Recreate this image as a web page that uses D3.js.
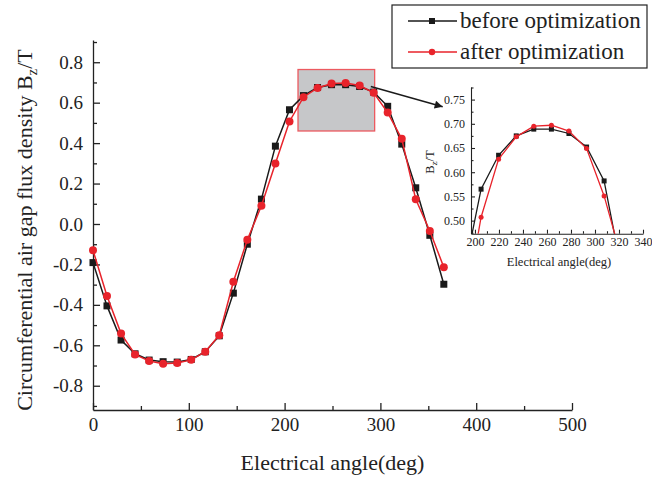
<!DOCTYPE html>
<html>
<head>
<meta charset="utf-8">
<script src="https://cdn.jsdelivr.net/npm/d3@7"></script>
<style>
  body { margin: 0; background: #fff; }
  svg text { font-family: "Liberation Serif", "DejaVu Serif", serif; fill: #222; }
  .axis path, .axis line { stroke: #222; }
</style>
</head>
<body>
<div id="chart"></div>
<script>
// electrical angle of each sample (deg)
var angles = [0, 14.6, 29.3, 43.9, 58.6, 73.2, 87.9, 102.5, 117.2, 131.8, 146.5, 161.1, 175.8,
              190.4, 205.1, 219.7, 234.4, 249, 263.7, 278.3, 293, 307.6, 322.3, 336.9, 351.6, 366.2];
var beforeOpt = [-0.191, -0.405, -0.574, -0.642, -0.673, -0.681, -0.683, -0.670, -0.632, -0.553, -0.342, -0.100, 0.123,
                 0.385, 0.565, 0.635, 0.675, 0.689, 0.689, 0.680, 0.652, 0.582, 0.395, 0.179, -0.056, -0.298];
var afterOpt = [-0.130, -0.356, -0.542, -0.645, -0.678, -0.691, -0.688, -0.672, -0.632, -0.550, -0.286, -0.078, 0.090,
                0.299, 0.507, 0.627, 0.673, 0.695, 0.697, 0.685, 0.649, 0.551, 0.421, 0.122, -0.035, -0.214];
var seriesNames = ["before optimization", "after optimization"];

var xTicks = [0, 100, 200, 300, 400, 500];
var xMinor = [50, 150, 250, 350, 450];
var yTicks = [-0.8, -0.6, -0.4, -0.2, 0.0, 0.2, 0.4, 0.6, 0.8];
var yMinor = [-0.9, -0.7, -0.5, -0.3, -0.1, 0.1, 0.3, 0.5, 0.7, 0.9];

var insetXTicks = [200, 220, 240, 260, 280, 300, 320, 340];
var insetXMinor = [210, 230, 250, 270, 290, 310, 330];
var insetYTicks = [0.50, 0.55, 0.60, 0.65, 0.70, 0.75];
var insetYMinor = [0.475, 0.525, 0.575, 0.625, 0.675, 0.725, 0.775];

// zoomed region and arrow (data coords of main chart)
var zoomBox = { x0: 214, x1: 294, y0: 0.46, y1: 0.764 };
var arrowFrom = [290, 0.68], arrowTo = [365, 0.58];

var red = "#e8232b", black = "#1a1a1a";
var serif = "Liberation Serif, DejaVu Serif, serif";

var svg = d3.select("#chart").append("svg").attr("width", 652).attr("height", 477);

var x = d3.scaleLinear().domain([0, 500]).range([93, 572]);
var y = d3.scaleLinear().domain([-0.92, 0.91]).range([410, 40]);

function Series(vals) {
    return angles.map(function(a, i) { return [a, vals[i]]; });
}

function DrawAxes(g, xs, ys, opt) {
    var bottom = ys.range()[0], left = xs.range()[0];
    g.append("g").attr("class", "axis").attr("transform", "translate(0," + bottom + ")")
        .call(d3.axisBottom(xs).tickValues(opt.xTicks).tickSize(-opt.major).tickSizeOuter(0).tickPadding(opt.pad)
            .tickFormat(function(d) { return d; }));
    g.append("g").attr("class", "axis").attr("transform", "translate(0," + bottom + ")")
        .call(d3.axisBottom(xs).tickValues(opt.xMinor).tickSize(-opt.minor).tickFormat(""))
        .select(".domain").remove();
    g.append("g").attr("class", "axis").attr("transform", "translate(" + left + ",0)")
        .call(d3.axisLeft(ys).tickValues(opt.yTicks).tickSize(-opt.major).tickSizeOuter(0).tickPadding(opt.pad + 2)
            .tickFormat(function(d) { return d.toFixed(opt.dec); }));
    g.append("g").attr("class", "axis").attr("transform", "translate(" + left + ",0)")
        .call(d3.axisLeft(ys).tickValues(opt.yMinor).tickSize(-opt.minor).tickFormat(""))
        .select(".domain").remove();
    g.selectAll(".axis").attr("font-family", serif).attr("font-size", opt.font);
    g.selectAll(".axis text").attr("font-family", serif).attr("font-size", opt.font)
        .style("font-family", serif).style("font-size", opt.font + "px").style("fill", "#222");
    g.selectAll(".axis path, .axis line").style("stroke", "#222").style("stroke-width", opt.sw);
}

function DrawSeries(g, xs, ys, vals, color, isSquare, sz, lw) {
    var line = d3.line().x(function(d) { return xs(d[0]); }).y(function(d) { return ys(d[1]); });
    var data = Series(vals);
    g.append("path").datum(data).attr("d", line).attr("fill", "none")
        .attr("stroke", color).attr("stroke-width", lw);
    if (isSquare) {
        g.selectAll(null).data(data).enter().append("rect")
            .attr("x", function(d) { return xs(d[0]) - sz / 2; })
            .attr("y", function(d) { return ys(d[1]) - sz / 2; })
            .attr("width", sz).attr("height", sz).attr("fill", color);
    } else {
        g.selectAll(null).data(data).enter().append("circle")
            .attr("cx", function(d) { return xs(d[0]); })
            .attr("cy", function(d) { return ys(d[1]); })
            .attr("r", sz / 2).attr("fill", color);
    }
}

// main chart
var main = svg.append("g");
main.append("rect")
    .attr("x", x(zoomBox.x0)).attr("y", y(zoomBox.y1))
    .attr("width", x(zoomBox.x1) - x(zoomBox.x0)).attr("height", y(zoomBox.y0) - y(zoomBox.y1))
    .attr("fill", "#c6c7c9").attr("stroke", "#ec5a60").attr("stroke-width", 1.3);

DrawAxes(main, x, y, { xTicks: xTicks, xMinor: xMinor, yTicks: yTicks, yMinor: yMinor,
    major: 7, minor: 4, pad: 8, font: 19, dec: 1, sw: 1.3 });

DrawSeries(main, x, y, beforeOpt, black, true, 7, 1.5);
DrawSeries(main, x, y, afterOpt, red, false, 8, 1.5);

main.append("text").attr("x", (x(0) + x(500)) / 2).attr("y", 470)
    .attr("text-anchor", "middle").style("font-size", "22px").text("Electrical angle(deg)");

var yt = main.append("text").attr("transform", "translate(32,230) rotate(-90)")
    .attr("text-anchor", "middle").style("font-size", "22px");
yt.append("tspan").text("Circumferential air gap flux density B");
yt.append("tspan").attr("dy", 5).style("font-size", "15px").text("z");
yt.append("tspan").attr("dy", -5).text("/T");

// arrow
svg.append("defs").append("marker").attr("id", "arrow").attr("viewBox", "0 0 10 10")
    .attr("refX", 10).attr("refY", 5).attr("markerWidth", 12).attr("markerHeight", 8)
    .attr("markerUnits", "userSpaceOnUse").attr("orient", "auto")
    .append("path").attr("d", "M0,0 L10,5 L0,10 z").attr("fill", black);
main.append("line")
    .attr("x1", x(arrowFrom[0])).attr("y1", y(arrowFrom[1]))
    .attr("x2", x(arrowTo[0])).attr("y2", y(arrowTo[1]))
    .attr("stroke", black).attr("stroke-width", 1.4).attr("marker-end", "url(#arrow)");

// legend
var lg = svg.append("g").attr("transform", "translate(392,5)");
lg.append("rect").attr("width", 255).attr("height", 63).attr("fill", "#fff")
    .attr("stroke", "#222").attr("stroke-width", 1.2);
seriesNames.forEach(function(name, i) {
    var cy = 16 + i * 31;
    var col = i == 0 ? black : red;
    lg.append("line").attr("x1", 16).attr("x2", 65).attr("y1", cy).attr("y2", cy)
        .attr("stroke", col).attr("stroke-width", 1.4);
    if (i == 0) {
        lg.append("rect").attr("x", 37).attr("y", cy - 3).attr("width", 6).attr("height", 6).attr("fill", col);
    } else {
        lg.append("circle").attr("cx", 40).attr("cy", cy).attr("r", 3.2).attr("fill", col);
    }
    lg.append("text").attr("x", 68).attr("y", cy + 7).style("font-size", "23px").text(name);
});

// inset
var ix = d3.scaleLinear().domain([196.7, 340]).range([471, 643]);
var iy = d3.scaleLinear().domain([0.473, 0.776]).range([233.7, 87]);
var inset = svg.append("g");
svg.select("defs").append("clipPath").attr("id", "insetClip").append("rect")
    .attr("x", 471).attr("y", 87).attr("width", 172).attr("height", 146.7);

DrawAxes(inset, ix, iy, { xTicks: insetXTicks, xMinor: insetXMinor, yTicks: insetYTicks, yMinor: insetYMinor,
    major: 4, minor: 2.5, pad: 4, font: 12, dec: 2, sw: 1.1 });

var plot = inset.append("g").attr("clip-path", "url(#insetClip)");
DrawSeries(plot, ix, iy, beforeOpt, black, true, 5, 1.3);
DrawSeries(plot, ix, iy, afterOpt, red, false, 5, 1.3);

inset.append("text").attr("x", (ix(200) + ix(340)) / 2).attr("y", 266)
    .attr("text-anchor", "middle").style("font-size", "12.5px").text("Electrical angle(deg)");
var it = inset.append("text").attr("transform", "translate(434,162) rotate(-90)")
    .attr("text-anchor", "middle").style("font-size", "12.5px");
it.append("tspan").text("B");
it.append("tspan").attr("dy", 3).style("font-size", "9px").text("z");
it.append("tspan").attr("dy", -3).text("/T");
</script>
</body>
</html>
